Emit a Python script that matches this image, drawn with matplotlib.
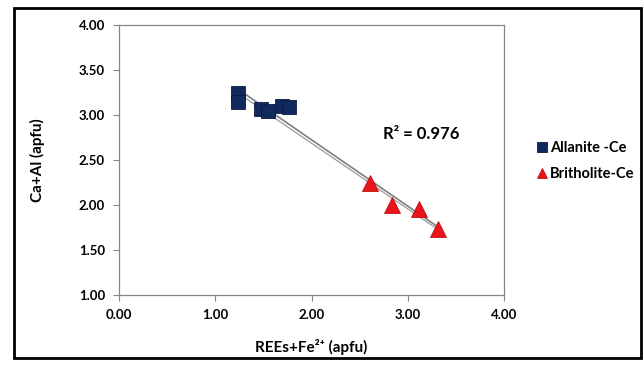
import numpy as np
import matplotlib.pyplot as plt
from matplotlib.patches import Rectangle

plt.rcParams['font.family'] = ['Lato', 'DejaVu Sans']

# Allanite-Ce
allanite_x = [1.24, 1.24, 1.48, 1.55, 1.69, 1.77]
allanite_y = [3.24, 3.14, 3.07, 3.04, 3.10, 3.09]
# Britholite-Ce
britholite_x = [2.61, 2.84, 3.12, 3.31]
britholite_y = [2.24, 2.00, 1.96, 1.73]

xticks = [0.0, 1.0, 2.0, 3.0, 4.0]
yticks = [1.0, 1.5, 2.0, 2.5, 3.0, 3.5, 4.0]

fig = plt.figure(figsize=(6.43, 3.66), dpi=100)
ax = fig.add_axes([0.185, 0.194, 0.599, 0.738])

# trend lines
all_x = np.array(allanite_x + britholite_x)
all_y = np.array(allanite_y + britholite_y)
k, b = np.polyfit(all_x, all_y, 1)
xx = np.array([min(all_x), max(all_x)])
ax.plot(xx, k * xx + b, color='#7f7f7f', lw=1.2, zorder=2)
ax.plot([allanite_x[0], britholite_x[-1]], [allanite_y[0], britholite_y[-1]],
        color='#9a9a9a', lw=0.9, zorder=2)

ax.plot(allanite_x, allanite_y, ls='none', marker='s', ms=10, color='#12295e',
        mec='#0a1a40', mew=0.6, label='Allanite -Ce', zorder=3)
ax.plot(britholite_x, britholite_y, ls='none', marker='^', ms=11, color='#e8161b',
        mec='#c01015', mew=0.6, label='Britholite-Ce', zorder=4)

ax.text(2.74, 2.73, 'R² = 0.976', fontsize=12, fontweight='bold')

ax.set_xlim(0, 4)
ax.set_ylim(1, 4)
ax.set_xticks(xticks)
ax.set_yticks(yticks)
ax.set_xticklabels(['%.2f' % t for t in xticks], fontweight='bold', fontsize=9.5)
ax.set_yticklabels(['%.2f' % t for t in yticks], fontweight='bold', fontsize=9.5)
ax.tick_params(direction='out', length=4, color='#868686', width=0.8, pad=6)
for s in ax.spines.values():
    s.set_color('#868686')
    s.set_linewidth(0.9)

ax.set_xlabel('REEs+Fe²⁺ (apfu)', fontsize=11, fontweight='bold', labelpad=13)
ax.set_ylabel('Ca+Al (apfu)', fontsize=11, fontweight='bold', labelpad=24)

fig.legend(loc='center left', bbox_to_anchor=(0.815, 0.56), frameon=False,
           prop={'weight': 'bold', 'size': 10.5}, handlelength=0.7,
           handletextpad=0.2, labelspacing=0.8, markerscale=0.7)

fig.patches.append(Rectangle((14 / 643, 8 / 366), 627 / 643, 350 / 366,
                             transform=fig.transFigure, fill=False,
                             edgecolor='black', lw=2))

fig.savefig('out.png', dpi=100)
